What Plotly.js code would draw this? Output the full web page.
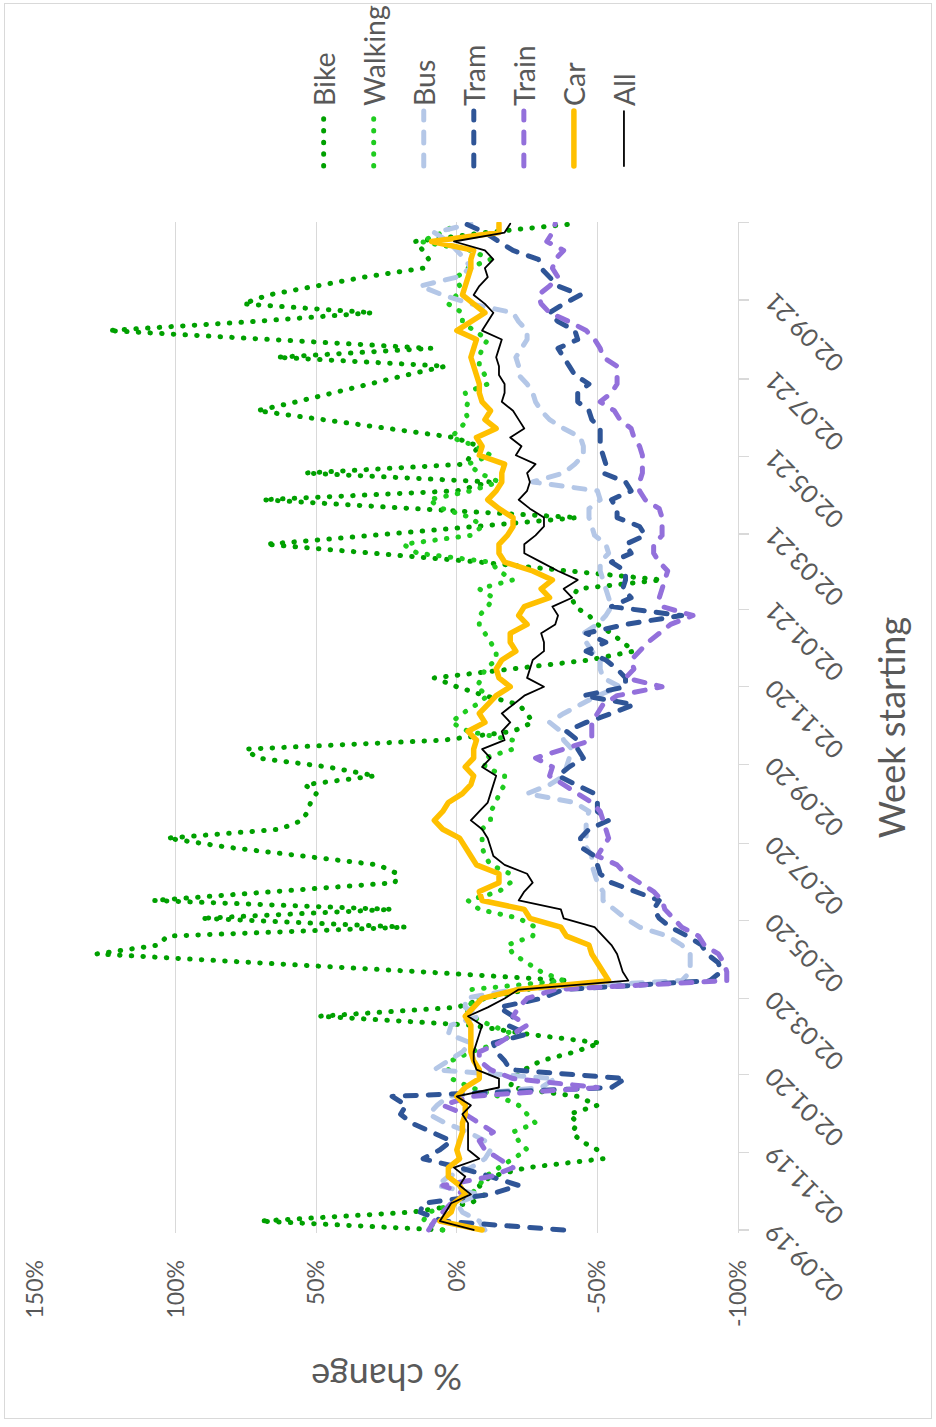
<!DOCTYPE html>
<html>
<head>
<meta charset="utf-8">
<script src="https://cdn.plot.ly/plotly-3.0.1.min.js"></script>
<style>
  html, body { margin:0; padding:0; background:#fff; }
  body { width:936px; height:1427px; overflow:hidden; position:relative; }
  #chart { position:absolute; left:0; top:0; width:1460px; height:936px;
           transform-origin:0 0; transform: translateY(1427px) rotate(-90deg); }
  #frame { position:absolute; left:4px; top:3px; width:928px; height:1416px;
           border:1.5px solid #d9d9d9; box-sizing:border-box; pointer-events:none; }
</style>
</head>
<body>
<div id="chart"></div>
<div id="frame"></div>
<script>
// Week starting dates (categories)
const weeks = [
'2019-09-02','2019-09-09','2019-09-16','2019-09-23','2019-09-30','2019-10-07','2019-10-14','2019-10-21','2019-10-28','2019-11-04',
'2019-11-11','2019-11-18','2019-11-25','2019-12-02','2019-12-09','2019-12-16','2019-12-23','2019-12-30','2020-01-06','2020-01-13',
'2020-01-20','2020-01-27','2020-02-03','2020-02-10','2020-02-17','2020-02-24','2020-03-02','2020-03-09','2020-03-16','2020-03-23',
'2020-03-30','2020-04-06','2020-04-13','2020-04-20','2020-04-27','2020-05-04','2020-05-11','2020-05-18','2020-05-25','2020-06-01',
'2020-06-08','2020-06-15','2020-06-22','2020-06-29','2020-07-06','2020-07-13','2020-07-20','2020-07-27','2020-08-03','2020-08-10',
'2020-08-17','2020-08-24','2020-08-31','2020-09-07','2020-09-14','2020-09-21','2020-09-28','2020-10-05','2020-10-12','2020-10-19',
'2020-10-26','2020-11-02','2020-11-09','2020-11-16','2020-11-23','2020-11-30','2020-12-07','2020-12-14','2020-12-21','2020-12-28',
'2021-01-04','2021-01-11','2021-01-18','2021-01-25','2021-02-01','2021-02-08','2021-02-15','2021-02-22','2021-03-01','2021-03-08',
'2021-03-15','2021-03-22','2021-03-29','2021-04-05','2021-04-12','2021-04-19','2021-04-26','2021-05-03','2021-05-10','2021-05-17',
'2021-05-24','2021-05-31','2021-06-07','2021-06-14','2021-06-21','2021-06-28','2021-07-05','2021-07-12','2021-07-19','2021-07-26',
'2021-08-02','2021-08-09','2021-08-16','2021-08-23','2021-08-30','2021-09-06','2021-09-13','2021-09-20','2021-09-27','2021-10-04',
'2021-10-11','2021-10-18','2021-10-25','2021-11-01'];

// % change per series
const bike = [
5,70,16,-5,-10,-8,-12,-25,-52,-50,
-44,-41,-43,-40,-50,-43,-19,-20,-24,-30,
-42,-51,-25,-5,49,0,-10,-25,-40,13,
74,128,106,103,18,91,23,108,65,22,
21,28,55,82,103,63,55,53,52,50,
54,29,46,71,75,5,-20,-27,-25,-22,
-10,0,8,-20,-47,-63,-59,-55,-50,-47,
-42,-41,-43,-73,-40,-8,30,68,30,-5,
-43,15,69,0,-12,54,-3,-5,-8,1,
25,48,71,57,44,32,18,4,64,9,
67,124,73,30,76,67,50,33,12,10,
12,15,-10,-42];

const walking = [
5,12,10,0,-5,-8,-10,-15,-20,-25,
-22,-20,-28,-25,-22,-15,-5,2,3,2,
-5,-15,-20,-12,-5,-3,-8,-5,-38,-30,
-25,-20,-18,-27,-28,-22,-8,-4,-15,-19,
-19,-12,-10,-9,-9,-9,-12,-12,-14,-15,
-17,-17,-10,-10,-20,-20,-4,2,-2,-7,
-11,-7,-9,-10,-14,-14,-12,-10,-8,-8,
-11,-13,-8,-20,-15,-12,14,19,-5,-9,
-5,5,10,-5,-15,-8,-4,-12,-7,2,
-1,-4,-3,-4,-3,-11,-10,-8,-8,-9,
-11,-6,-2,-2,3,0,-1,0,-4,-12,
-5,13,5,0];

const bus = [
-10,-8,-2,0,-8,7,3,-5,-10,-12,
-10,-4,4,10,7,3,-30,-35,8,3,
-2,-5,3,2,-8,-3,-3,-20,-80,-83,
-83,-83,-80,-75,-65,-60,-56,-52,-52,-50,
-49,-48,-48,-46,-46,-46,-46,-47,-42,-25,
-33,-38,-39,-40,-41,-38,-37,-33,-38,-44,
-50,-58,-52,-51,-51,-48,-46,-45,-50,-53,
-55,-54,-53,-52,-51,-51,-54,-53,-49,-48,
-47,-47,-51,-50,-27,-38,-42,-45,-45,-44,
-38,-33,-30,-28,-27,-25,-22,-22,-21,-23,
-25,-25,-22,-20,-5,5,13,0,-5,-3,
0,3,8,-5];

const tram = [
-38,5,13,12,-12,-22,-12,-1,12,6,
2,9,16,20,18,23,-55,-60,-19,-17,
-14,-13,-25,-18,-20,-15,-30,-38,-90,-94,
-93,-89,-87,-82,-76,-72,-70,-72,-63,-55,
-51,-50,-49,-44,-44,-47,-54,-50,-50,-49,
-42,-36,-40,-45,-43,-43,-39,-46,-55,-63,
-45,-60,-60,-57,-53,-46,-53,-46,-60,-80,
-55,-62,-59,-60,-60,-55,-62,-60,-67,-65,
-57,-57,-55,-62,-60,-52,-53,-52,-51,-51,
-51,-48,-47,-43,-43,-47,-42,-40,-38,-36,
-43,-42,-36,-33,-38,-44,-36,-33,-30,-29,
-20,-15,-10,-3];

const train = [
10,8,5,2,-3,5,-12,-20,-15,-10,
-8,-13,-8,-3,5,-5,-50,-20,-12,-8,
-8,-15,-20,-25,-20,-22,-25,-35,-96,-96,
-95,-93,-88,-86,-80,-77,-74,-73,-70,-65,
-60,-57,-50,-52,-54,-53,-52,-51,-48,-43,
-38,-33,-34,-28,-38,-48,-48,-48,-50,-52,
-57,-73,-60,-63,-62,-65,-68,-72,-76,-84,
-73,-72,-73,-74,-75,-72,-70,-70,-73,-73,
-73,-72,-67,-65,-65,-66,-66,-66,-65,-63,
-62,-58,-56,-51,-55,-57,-57,-57,-52,-51,
-49,-46,-40,-33,-30,-29,-33,-36,-34,-35,
-38,-32,-34,-35];

const car = [
-9,6,2,1,-3,-1,3,3,-1,0,
-1,-2,-2,-3,-3,0,-3,-8,-8,-6,
-5,-5,-5,-5,-3,-6,-9,-22,-54,-52,
-50,-48,-47,-39,-37,-26,-24,-9,-8,-15,
-15,-7,-5,-3,-1,5,8,5,3,-2,
-5,-6,-3,-6,-6,-7,-4,-10,-8,-11,
-14,-19,-15,-14,-16,-21,-19,-19,-25,-22,
-24,-33,-30,-34,-27,-17,-15,-15,-18,-20,
-20,-15,-11,-14,-16,-16,-17,-8,-9,-7,
-14,-10,-12,-9,-8,-8,-7,-6,-5,-6,
-7,0,-5,-10,-6,-2,-3,-4,-5,-5,
-6,9,-15,-15];

const all = [
-6,6,4,2,-5,-1,-3,1,-8,-4,
-4,-4,-4,-2,-5,0,-15,-15,-7,-6,
-6,-7,-8,-9,-4,-11,-17,-22,-61,-59,
-58,-57,-55,-52,-49,-38,-37,-22,-24,-27,
-25,-17,-13,-12,-11,-9,-5,-8,-11,-12,
-13,-14,-9,-12,-9,-17,-16,-19,-16,-20,
-24,-31,-25,-26,-27,-31,-31,-30,-35,-36,
-34,-41,-38,-43,-36,-30,-24,-24,-28,-31,
-31,-26,-22,-25,-26,-25,-28,-21,-23,-19,
-24,-22,-20,-16,-17,-17,-15,-15,-14,-15,
-16,-9,-11,-13,-10,-6,-8,-11,-10,-13,
-10,1,-17,-19];

// Axis ticks
const dateTickVals = ['2019-09-02','2019-11-02','2020-01-02','2020-03-02','2020-05-02','2020-07-02','2020-09-02',
                      '2020-11-02','2021-01-02','2021-03-02','2021-05-02','2021-07-02','2021-09-02','2021-11-02'];
const dateTickText = ['02.09.19','02.11.19','02.01.20','02.03.20','02.05.20','02.07.20','02.09.20',
                      '02.11.20','02.01.21','02.03.21','02.05.21','02.07.21','02.09.21',''];
const pctTickVals = [-100,-50,0,50,100,150];
const pctTickText = ['-100%','-50%','0%','50%','100%','150%'];

const seriesNames = ['Bike','Walking','Bus','Tram','Train','Car','All'];
const seriesData = [bike, walking, bus, tram, train, car, all];
const seriesColor = ['#00A000','#1FCC1F','#B4C7E7','#2F5597','#9370DB','#FFC000','#000000'];
const seriesWidth = [5, 5, 5, 5, 5, 5.5, 1.8];
const seriesDash = ['0.5px,11.2px','0.5px,11.2px','11px,12px','11px,12px','11px,12px','solid','solid'];

const traces = seriesNames.map((n, k) => ({
  type: 'scatter', mode: 'lines', name: n, legendgroup: n,
  x: weeks, y: seriesData[k],
  line: {color: seriesColor[k], width: seriesWidth[k], dash: seriesDash[k]}
}));

const layout = {
  width: 1460, height: 936,
  margin: {l: 194, r: 255, t: 35, b: 198, pad: 0},
  paper_bgcolor: '#ffffff', plot_bgcolor: '#ffffff',
  font: {family: 'Lato, "Liberation Sans", sans-serif', color: '#595959', size: 24},
  showlegend: true,
  legend: {x: 1.0504, xanchor: 'left', y: 0.625, yanchor: 'top',
           font: {size: 28.5, color: '#595959'}, itemwidth: 55, tracegroupgap: 10,
           bgcolor: 'rgba(0,0,0,0)'},
  xaxis: {type: 'date', range: ['2019-08-30 15:00', '2021-11-02 08:00'],
          tickmode: 'array', tickvals: dateTickVals, ticktext: dateTickText,
          tickangle: -45, ticks: 'outside', ticklen: 10, tickwidth: 1.3, tickcolor: '#d9d9d9',
          showline: true, linecolor: '#d9d9d9', linewidth: 1.3,
          showgrid: false, zeroline: false, tickfont: {size: 25, color: '#595959'},
          title: {text: 'Week starting', font: {size: 36, color: '#595959'}, standoff: 31}},
  yaxis: {range: [-100, 150], tickmode: 'array', tickvals: pctTickVals, ticktext: pctTickText,
          showgrid: true, gridcolor: '#d9d9d9', gridwidth: 1.3, zeroline: false, showline: false,
          ticks: '', tickfont: {size: 23, color: '#595959'}, ticklabelstandoff: 26,
          title: {text: '% change', font: {size: 36, color: '#595959'}, standoff: 25}}
};

Plotly.newPlot('chart', traces, layout, {staticPlot: true, displayModeBar: false}).then(() => {
  document.querySelectorAll('#chart path.js-line, #chart .legendlines path').forEach(p => {
    p.style.strokeLinecap = 'round';
    p.style.strokeLinejoin = 'round';
  });
});
</script>
</body>
</html>
